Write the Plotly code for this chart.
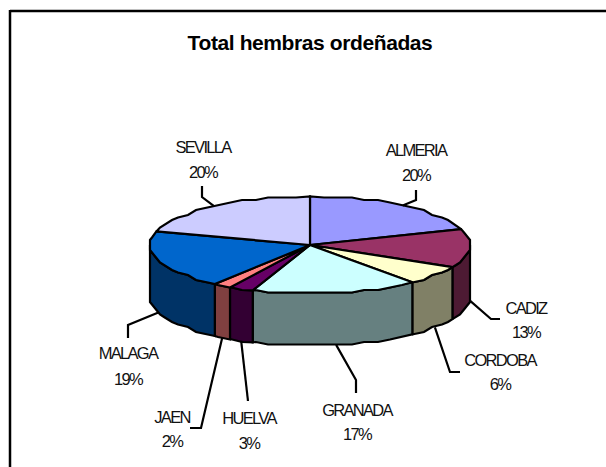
import numpy as np
import plotly.graph_objects as go

# --- data ---
regions = ["ALMERIA", "CADIZ", "CORDOBA", "GRANADA", "HUELVA", "JAEN", "MALAGA", "SEVILLA"]
shares = [19.6, 12.8, 6.4, 16.8, 2.5, 1.8, 19.3, 20.4]
title_text = "Total hembras ordeñadas"

# --- styles ---
top_colors = ["#9999FF", "#993366", "#FFFFCC", "#CCFFFF", "#660066", "#FF8080", "#0066CC", "#CCCCFF"]
side_colors = ["#4D4D80", "#4D1A33", "#808066", "#668080", "#330033", "#804040", "#003366", "#666680"]

# --- layout geometry of the drawing (pixels) ---
W, H = 606, 467
CX, CY, RX, RY, DEPTH = 310.0, 245.0, 160.0, 48.5, 52.0
LW = 2.2
LABEL_DY = 1.5
label_xy = {
    "ALMERIA": (416, 150, 175), "CADIZ": (526, 308, 332), "CORDOBA": (500, 360, 384),
    "GRANADA": (357, 410, 434), "HUELVA": (249, 418, 443), "JAEN": (172, 417, 441),
    "MALAGA": (128, 353, 379), "SEVILLA": (203, 147, 172),
}
leader_path = {
    "ALMERIA": [(416, 200), (416, 190)], "CADIZ": [(491, 319), (500, 319)],
    "CORDOBA": [(450, 372), (460, 372)], "GRANADA": [(356, 380), (356, 393)],
    "HUELVA": [(248, 401)], "JAEN": [(201, 428), (190, 428)],
    "MALAGA": [(128, 325), (128, 338)], "SEVILLA": [(202, 197), (202, 186)],
}


def rim(theta_deg, drop=0.0):
    t = np.radians(np.asarray(theta_deg, dtype=float))
    return CX + RX * np.sin(t), CY - RY * np.cos(t) + drop


def arc_angles(a, b):
    # sample on a fixed angular lattice so neighbouring slices share their rim
    inner = np.arange(np.ceil(a / 5) * 5, b, 5.0)
    return np.r_[a, inner[inner > a], b]


def rough(x, y, drop=0.0):
    # the reference's outline is visibly stepped; snap the inner rim points only,
    # so each slice boundary stays exactly where its value puts it
    sx = CX + np.round((x - CX) / 2) * 2
    sy = CY + drop + np.round((y - CY - drop) / 2.5) * 2.5
    sx[0], sx[-1], sy[0], sy[-1] = x[0], x[-1], y[0], y[-1]
    return sx, sy


fracs = np.array(shares) / sum(shares) * 360.0
ends = np.cumsum(fracs)
starts = ends - fracs

fig = go.Figure()

# side walls: only the front half (90 to 270 degrees) is visible
for i, name in enumerate(regions):
    a, b = max(starts[i], 90.0), min(ends[i], 270.0)
    if b <= a:
        continue
    th = arc_angles(a, b)
    x1, y1 = rough(*rim(th))
    x2, y2 = rough(*rim(th[::-1], DEPTH), DEPTH)
    fig.add_trace(go.Scatter(
        x=np.r_[x1, x2, x1[0]], y=np.r_[y1, y2, y1[0]], mode="lines", fill="toself",
        fillcolor=side_colors[i], line=dict(color="black", width=LW), hoverinfo="skip", showlegend=False))

# top faces
for i, name in enumerate(regions):
    th = arc_angles(starts[i], ends[i])
    x1, y1 = rough(*rim(th))
    fig.add_trace(go.Scatter(
        x=np.r_[CX, x1, CX], y=np.r_[CY, y1, CY], mode="lines", fill="toself",
        fillcolor=top_colors[i], line=dict(color="black", width=LW), name=name, hoverinfo="name", showlegend=False))

# leader lines, from the middle of each slice's outer edge
for i, name in enumerate(regions):
    mid = (starts[i] + ends[i]) / 2
    front = 90 < mid < 270
    sx, sy = rim(mid, DEPTH if front else 0.0)
    pts = [(float(sx), float(sy))] + leader_path[name]
    fig.add_trace(go.Scatter(
        x=[p[0] for p in pts], y=[p[1] for p in pts], mode="lines",
        line=dict(color="black", width=LW), hoverinfo="skip", showlegend=False))

# labels
label_font = dict(family="Liberation Sans, Arial, sans-serif", size=16.5, color="#111111")
fig.add_trace(go.Scatter(
    x=[label_xy[r][0] for r in regions], y=[label_xy[r][1] + LABEL_DY for r in regions], text=regions,
    mode="text", textposition="middle center", textfont=label_font, hoverinfo="skip", showlegend=False))
total = sum(shares)
fig.add_trace(go.Scatter(
    x=[label_xy[r][0] for r in regions], y=[label_xy[r][2] + LABEL_DY for r in regions],
    text=[f"{round(v / total * 100)}%" for v in shares],
    mode="text", textposition="middle center", textfont=label_font, hoverinfo="skip", showlegend=False))
fig.add_trace(go.Scatter(
    x=[CX], y=[45], text=[title_text], mode="text", textposition="middle center",
    textfont=dict(family="Liberation Sans, Arial, sans-serif", size=21, color="black", weight="bold"),
    hoverinfo="skip", showlegend=False))

fig.update_layout(
    width=W, height=H, margin=dict(l=0, r=0, t=0, b=0), autosize=False,
    paper_bgcolor="white", plot_bgcolor="white", showlegend=False,
    xaxis=dict(range=[0, W], visible=False, fixedrange=True),
    yaxis=dict(range=[H, 0], visible=False, fixedrange=True),
    shapes=[
        dict(type="line", xref="x", yref="y", x0=10, x1=W, y0=11, y1=11, line=dict(color="black", width=2.5)),
        dict(type="line", xref="x", yref="y", x0=10, x1=10, y0=10, y1=H, line=dict(color="black", width=2.5)),
    ],
)

post = """
document.body.style.margin='0';
document.body.style.overflow='hidden';
document.querySelectorAll('.textpoint text').forEach(function(t){
  var big = t.textContent.indexOf('Total')===0;
  t.style.letterSpacing = big ? '-0.4px' : '-1.7px';
});
"""
fig.write_html("out.html", post_script=post, config={"displayModeBar": False})
